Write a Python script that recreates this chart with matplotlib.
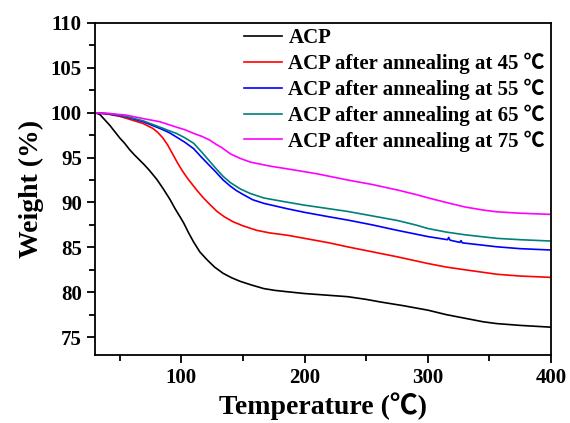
import matplotlib

matplotlib.use("Agg")
import matplotlib.pyplot as plt
from matplotlib.ticker import MultipleLocator

plt.rcParams["font.family"] = ["Liberation Serif", "Noto Sans CJK SC", "DejaVu Serif"]
plt.rcParams["font.weight"] = "bold"

# TGA curves: temperature (C) vs residual weight (%)
acp_t = [30, 34, 38, 42, 46, 50, 54, 58, 62, 66, 70, 74, 77, 80, 85, 91, 95,
         99, 102, 106, 110, 115, 121, 127, 134, 141, 148, 157, 167, 176, 186,
         200, 220, 235, 250, 262, 280, 300, 315, 330, 345, 356, 375, 400]
acp_w = [100, 99.8, 99.2, 98.6, 97.9, 97.2, 96.6, 95.9, 95.3, 94.75, 94.2,
         93.6, 93.1, 92.6, 91.6, 90.3, 89.3, 88.4, 87.7, 86.6, 85.6, 84.5,
         83.6, 82.8, 82.1, 81.6, 81.2, 80.8, 80.4, 80.2, 80.05, 79.85, 79.65,
         79.5, 79.2, 78.9, 78.5, 78.0, 77.5, 77.1, 76.7, 76.5, 76.3, 76.1]

a45_t = [30, 40, 50, 55, 62, 69, 77, 81, 85, 89, 93, 97, 101, 105, 109, 113,
         118, 123, 129, 135, 142, 150, 161, 172, 186, 200, 220, 235, 255, 275,
         300, 315, 330, 356, 375, 400]
a45_w = [100, 99.85, 99.6, 99.4, 99.1, 98.8, 98.25, 97.8, 97.2, 96.4, 95.4,
         94.4, 93.5, 92.7, 92.0, 91.3, 90.5, 89.8, 89.0, 88.4, 87.85, 87.4,
         86.9, 86.6, 86.35, 86.0, 85.5, 85.05, 84.5, 83.95, 83.2, 82.8, 82.5,
         82.0, 81.8, 81.65]

a55_t = [30, 42, 55, 69, 82.5, 90, 96, 103, 110, 116, 123, 128, 134, 140, 145,
         150, 158, 167, 186, 200, 220, 235, 255, 275, 300, 316, 317, 318, 326,
         327, 328, 356, 375, 400]
a55_w = [100, 99.85, 99.55, 99.0, 98.26, 97.8, 97.3, 96.7, 96.0, 95.1, 94.1,
         93.4, 92.5, 91.8, 91.3, 90.9, 90.3, 89.9, 89.3, 88.9, 88.4, 88.04,
         87.5, 86.9, 86.2, 85.85, 86.1, 85.8, 85.55, 85.75, 85.5, 85.06,
         84.85, 84.7]

a65_t = [30, 42, 55, 69, 82.5, 90, 96, 103, 110, 116, 123, 128, 134, 140, 148,
         156, 167, 183, 200, 220, 235, 255, 275, 290, 300, 315, 330, 356, 375,
         400]
a65_w = [100, 99.9, 99.6, 99.1, 98.4, 98.0, 97.7, 97.2, 96.6, 95.7, 94.6,
         93.8, 92.9, 92.2, 91.5, 91.0, 90.5, 90.1, 89.7, 89.3, 89.0, 88.5,
         88.0, 87.5, 87.1, 86.7, 86.4, 86.0, 85.85, 85.7]

a75_t = [30, 42, 55, 69, 82.5, 96, 103, 110, 117, 123, 128, 133, 140, 148, 156,
         172, 188, 210, 235, 255, 275, 290, 302, 315, 330, 345, 356, 375, 400]
a75_w = [100, 99.9, 99.74, 99.35, 99.0, 98.4, 98.1, 97.7, 97.35, 96.96, 96.5,
         96.1, 95.4, 94.9, 94.5, 94.05, 93.7, 93.2, 92.5, 92.0, 91.4, 90.9,
         90.45, 90.0, 89.5, 89.15, 88.96, 88.8, 88.67]

labels = [
    "ACP",
    "ACP after annealing at 45 \u2103",
    "ACP after annealing at 55 \u2103",
    "ACP after annealing at 65 \u2103",
    "ACP after annealing at 75 \u2103",
]
colors = ["#000000", "#ff0000", "#0000ff", "#00807a", "#ff00ff"]
series = [(acp_t, acp_w), (a45_t, a45_w), (a55_t, a55_w),
          (a65_t, a65_w), (a75_t, a75_w)]

fig = plt.figure(figsize=(5.7, 4.23), dpi=100)
ax = fig.add_axes([95 / 570, 1 - 355 / 423, (551 - 95) / 570, (355 - 23) / 423])

for (t, w), color, label in zip(series, colors, labels):
    ax.plot(t, w, color=color, linewidth=1.2, label=label)

ax.set_xlim(30, 400)
ax.set_ylim(73, 110)
ax.xaxis.set_major_locator(MultipleLocator(100))
ax.xaxis.set_minor_locator(MultipleLocator(50))
ax.yaxis.set_major_locator(MultipleLocator(5))
ax.yaxis.set_minor_locator(MultipleLocator(2.5))
ax.tick_params(which="both", direction="out", top=False, right=False,
               width=1.3, labelsize=15)
ax.tick_params(which="major", length=6)
ax.tick_params(which="minor", length=4)
for spine in ax.spines.values():
    spine.set_linewidth(1.3)

ax.set_xlabel("Temperature (\u2103)", fontsize=20, fontweight="bold", labelpad=3)
ax.set_ylabel("Weight (%)", fontsize=20, fontweight="bold", labelpad=5)

ax.legend(loc="upper right", frameon=False, fontsize=15, handlelength=1.85,
          handletextpad=0.3, labelspacing=0.22, borderaxespad=0.0,
          bbox_to_anchor=(1.005, 1.01))

fig.savefig("out.png", dpi=100)
